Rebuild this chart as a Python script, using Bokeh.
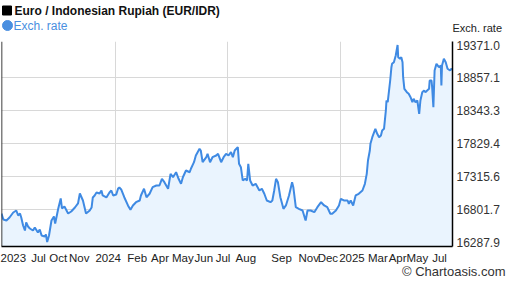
from bokeh.plotting import figure
from bokeh.layouts import column
from bokeh.core.properties import value
from bokeh.models import Range1d, FixedTicker, Span, Title, NumeralTickFormatter, ColumnDataSource
from bokeh.embed import file_html
from bokeh.resources import INLINE

# x = days since 2023-07-01
days = [
    0, 3, 8, 13, 19, 24, 27, 30, 32, 35,
    38, 40, 43, 46, 51, 54, 59, 62, 65, 70,
    72, 74, 77, 81, 85, 87, 92, 96, 98, 102,
    108, 113, 119, 124, 127, 132, 137, 143, 146, 148,
    151, 154, 159, 162, 164, 170, 175, 178, 181, 186,
    189, 191, 194, 199, 205, 209, 213, 218, 224, 226,
    231, 235, 240, 245, 251, 256, 260, 264, 270, 274,
    278, 283, 287, 291, 294, 299, 305, 307, 312, 315,
    321, 323, 326, 332, 334, 338, 342, 348, 351, 356,
    360, 364, 368, 372, 375, 378, 383, 385, 388, 391,
    395, 398, 400, 403, 407, 412, 418, 422, 426, 430,
    436, 439, 442, 445, 448, 452, 457, 461, 466, 471,
    473, 477, 482, 488, 492, 493, 496, 501, 507, 512,
    518, 523, 528, 533, 536, 542, 547, 550, 555, 561,
    563, 566, 570, 574, 579, 585, 589, 592, 594, 597,
    598, 601, 606, 609, 612, 615, 617, 620, 623, 624,
    626, 630, 632, 633, 636, 639, 642, 643, 646, 648,
    650, 651, 653, 657, 660, 663, 666, 668, 671, 674,
    677, 679, 682, 685, 687, 690, 693, 694, 697, 698,
    700, 702, 705, 709, 712, 713, 714, 717, 720, 723,
    727, 729, 731,
]
rate = [
    16735, 16642, 16626, 16673, 16751, 16782, 16704, 16735, 16673, 16548,
    16469, 16595, 16532, 16501, 16469, 16516, 16438, 16485, 16391, 16376,
    16407, 16288, 16391, 16626, 16688, 16579, 16814, 16970, 16814, 16845,
    16735, 16767, 16829, 16892, 17048, 16939, 16735, 16782, 16829, 16986,
    17017, 17064, 17048, 17095, 17017, 16986, 17064, 17095, 17017, 17033,
    17126, 17142, 17111, 16990, 16861, 16793, 16861, 16912, 16939, 17017,
    17122, 16990, 17044, 17147, 17173, 17173, 17278, 17225, 17122, 17356,
    17303, 17381, 17278, 17200, 17303, 17408, 17381, 17435, 17538, 17643,
    17747, 17721, 17538, 17616, 17669, 17538, 17616, 17643, 17669, 17538,
    17616, 17669, 17643, 17694, 17616, 17721, 17773, 17513, 17460, 17252,
    17278, 17252, 17513, 17252, 17173, 17200, 17095, 17122, 17044, 16939,
    16912, 16939, 17095, 17278, 17225, 16990, 16809, 16861, 17017, 17225,
    17147, 16834, 16809, 16782, 16652, 16626, 16782, 16782, 16756, 16834,
    16912, 16861, 16834, 16731, 16731, 16782, 16861, 16965, 16939, 16939,
    16887, 16939, 16861, 17017, 17044, 17095, 17200, 17356, 17564, 17721,
    17826, 17929, 18060, 17982, 17929, 17956, 18034, 18060, 18347, 18503,
    18476, 18816, 19024, 19077, 19102, 19207, 19371, 19180, 19155, 19180,
    19102, 18868, 18686, 18633, 18608, 18555, 18476, 18530, 18476, 18503,
    18295, 18503, 18633, 18660, 18633, 18660, 18686, 18816, 18816, 18711,
    18398, 18972, 19077, 19024, 19051, 18738, 19051, 19155, 19102, 18999,
    18972, 18999, 18986,
]

y_ticks = [16287.9, 16801.7, 17315.6, 17829.4, 18343.3, 18857.1, 19371.0]
x_tick_days = [19, 60, 92, 126, 173, 220, 257, 294, 328, 359, 396, 454, 498, 529, 568, 610, 642, 674, 710]
x_tick_labels = ["2023", "Jul", "Oct", "Nov", "2024", "Feb", "Apr", "May", "Jun", "Jul",
                 "Aug", "Sep", "Nov", "Dec", "2025", "Mar", "Apr", "May", "Jul"]
x_grid_days = [184, 366, 550]

title_text = "Euro / Indonesian Rupiah (EUR/IDR)"
series_name = "Exch. rate"
axis_title = "Exch. rate"
credit = "\u00A9 Chartoasis.com"

X_MIN, X_MAX = 0, 731
Y_MIN, Y_MAX = 16219, 19426

FONT = "Liberation Sans"
LINE_BLUE = "#3f8ae3"
LEG_BLUE = "#4a8fe0"
FILL_BLUE = "#eaf4fe"

W = 507
HEAD_H = 36
MAIN_H = 288 - HEAD_H
BORDER_L, BORDER_R = 1, 55

# ---------- header (legend + axis title) ----------
head = figure(width=W, height=HEAD_H, output_backend="svg", toolbar_location=None,
              x_range=Range1d(BORDER_L, W - BORDER_R), y_range=Range1d(HEAD_H, 0),
              x_axis_type=None, y_axis_location="right",
              min_border_left=BORDER_L, min_border_right=BORDER_R,
              min_border_top=0, min_border_bottom=0)
head.outline_line_color = None
head.grid.visible = False
head.background_fill_color = "white"
head.border_fill_color = "white"

head.scatter(x=[6.5], y=[10], marker="square", size=9, fill_color="black", line_color="black")
head.text(x=[14], y=[10], text=[title_text], text_font=value(FONT),
          text_font_size="12px", text_font_style="bold", text_color="#111111", text_baseline="middle")
head.scatter(x=[7], y=[25], marker="circle", size=10, fill_color=LEG_BLUE, line_color=LEG_BLUE)
head.text(x=[13], y=[25], text=[series_name], text_font=value(FONT),
          text_font_size="12px", text_color=LEG_BLUE, text_baseline="middle")

hy = head.yaxis[0]
hy.ticker = FixedTicker(ticks=[27])
hy.major_label_overrides = {27: axis_title}
hy.axis_line_color = None
hy.major_tick_line_color = None
hy.minor_tick_line_color = None
hy.major_tick_in = 0
hy.major_tick_out = 0
hy.major_label_standoff = 0
hy.major_label_text_font = FONT
hy.major_label_text_font_size = "11px"
hy.major_label_text_color = "#222222"

# ---------- main chart ----------
src = ColumnDataSource(dict(x=days, y=rate))

p = figure(width=W, height=MAIN_H, output_backend="svg", toolbar_location=None,
           x_range=Range1d(X_MIN, X_MAX), y_range=Range1d(Y_MIN, Y_MAX),
           y_axis_location="right", title=None,
           min_border_left=BORDER_L, min_border_right=BORDER_R, min_border_top=5, min_border_bottom=42)
p.outline_line_color = None
p.background_fill_color = "white"
p.border_fill_color = "white"

p.varea(x="x", y1=Y_MIN, y2="y", source=src, fill_color=FILL_BLUE)
p.line(x="x", y="y", source=src, line_color=LINE_BLUE, line_width=2)

p.ygrid.ticker = FixedTicker(ticks=y_ticks[1:-1])
p.xgrid.ticker = FixedTicker(ticks=x_grid_days)
for g in (p.xgrid, p.ygrid):
    g.grid_line_color = "#d8d8d8"
    g.grid_line_width = 1

ya = p.yaxis[0]
ya.ticker = FixedTicker(ticks=y_ticks)
ya.formatter = NumeralTickFormatter(format="0.0")
ya.major_tick_in = 0
ya.major_tick_out = 0
ya.minor_tick_line_color = None
ya.major_label_standoff = 4
ya.axis_line_color = "black"
ya.axis_line_width = 1.5
ya.major_label_text_font = FONT
ya.major_label_text_font_size = "12px"
ya.major_label_text_color = "#333333"

xa = p.xaxis[0]
xa.ticker = FixedTicker(ticks=x_tick_days)
xa.major_label_overrides = {d: lab for d, lab in zip(x_tick_days, x_tick_labels)}
xa.major_tick_in = 0
xa.major_tick_out = 0
xa.minor_tick_line_color = None
xa.major_label_standoff = 5
xa.axis_line_color = "black"
xa.axis_line_width = 1.5
xa.major_label_text_font = FONT
xa.major_label_text_font_size = "11.5px"
xa.major_label_text_color = "#222222"

p.add_layout(Span(location=X_MIN, dimension="height", line_color="black", line_width=1.5))

p.add_layout(Title(text=credit, align="right", offset=-53, standoff=-5, vertical_align="top",
                   text_font=FONT, text_font_size="13px", text_font_style="normal",
                   text_color="#333333"), "below")

layout = column(head, p, spacing=0)
open("out.html", "w").write(file_html(layout, INLINE))
